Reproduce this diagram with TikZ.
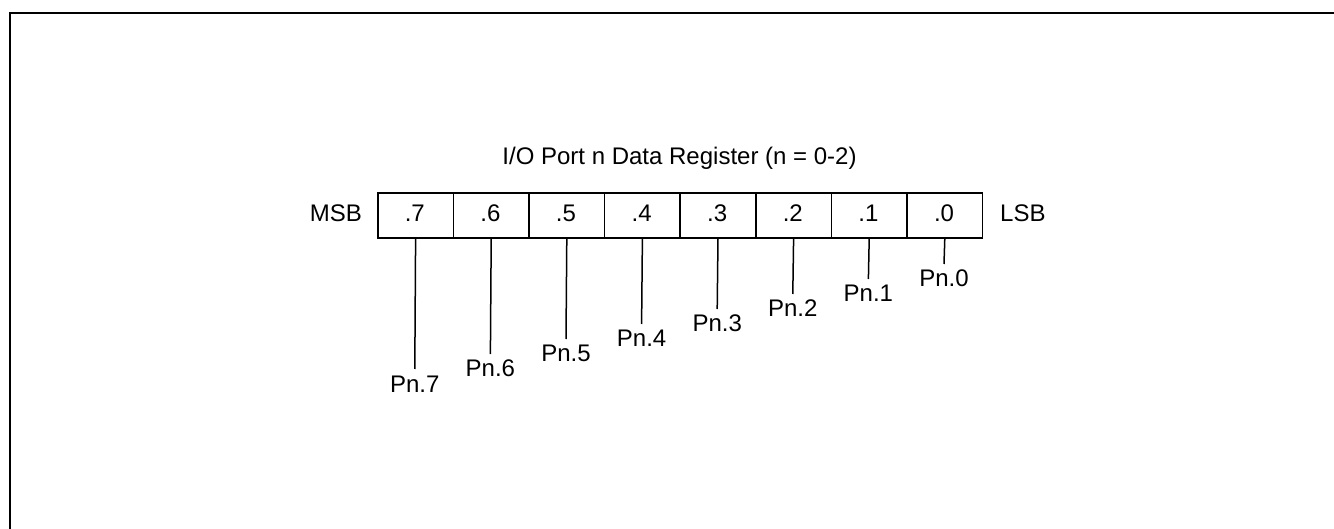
\documentclass[tikz,border=0pt]{standalone}
\usepackage{fontspec}
\setmainfont{Liberation Sans}
\begin{document}
\begin{tikzpicture}[x=1pt,y=-1pt,
  txt/.style={font=\fontsize{24}{28}\selectfont, inner sep=0pt},
  cell/.style={draw, line width=1.6pt, minimum width=75.6pt, minimum height=45pt, inner sep=0pt, anchor=north west},
  leg/.style={line width=1.5pt},
  frame/.style={line width=2.4pt}]
\useasboundingbox (0,0) rectangle (1334,529);
\coordinate (ftr) at (1334,13);
\coordinate (ftl) at (10,13);
\coordinate (fbl) at (10,529);
\draw[frame] (ftr) -- (ftl) -- (fbl);
\node[txt, anchor=base] (title) at (679.5,165) {I/O Port n Data Register (n = 0-2)};
\foreach \b [count=\i from 0] in {7,6,5,4,3,2,1,0} {
  \node[cell] (c\b) at ({377+75.6*\i},192) {};
  \node[txt, anchor=base] (t\b) at ({377+75.6*(\i+0.5)},222) {.\b};
  \coordinate (e\b) at ({377+75.6*(\i+0.5)},{264+15*\b});
  \draw[leg] (c\b.south) -- (e\b);
  \node[txt, anchor=base] (p\b) at ({377+75.6*(\i+0.5)},{264+15*\b+23}) {Pn.\b};
}
\node[txt, anchor=base east] (msb) at (362,222) {MSB};
\node[txt, anchor=base west] (lsb) at (1000,222) {LSB};
\end{tikzpicture}
\end{document}
